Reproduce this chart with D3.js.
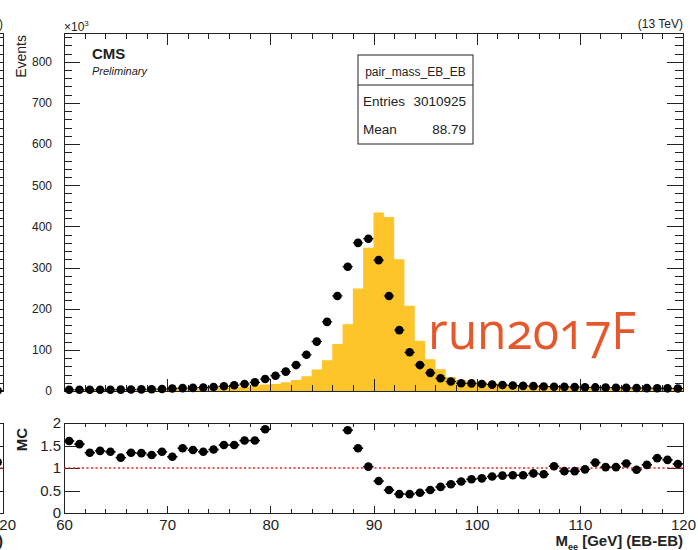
<!DOCTYPE html>
<meta charset="utf-8">
<style>

body {
  margin: 0;
  background: #fff;
}

svg {
  font-family: "Liberation Sans", Arial, sans-serif;
}

.frame path,
.frame line {
  stroke: #222;
  stroke-width: 1;
  shape-rendering: crispEdges;
}

.frame text {
  fill: #222;
}

.run {
  font-family: "Open Sans", Lato, sans-serif;
  font-feature-settings: "onum" 1;
  font-variant-numeric: oldstyle-nums;
}

</style>
<body>
<script src="https://cdn.jsdelivr.net/npm/d3@7"></script>
<script>

// lower edges of the 1 GeV mass bins
var binLow = [60, 61, 62, 63, 64, 65, 66, 67, 68, 69,
              70, 71, 72, 73, 74, 75, 76, 77, 78, 79,
              80, 81, 82, 83, 84, 85, 86, 87, 88, 89,
              90, 91, 92, 93, 94, 95, 96, 97, 98, 99,
              100, 101, 102, 103, 104, 105, 106, 107, 108, 109,
              110, 111, 112, 113, 114, 115, 116, 117, 118, 119];

// data, events x10^3
var dataCounts = [3.0, 3.0, 3.0, 3.1, 3.2, 3.4, 3.7, 4.0, 4.3, 4.7,
                  6.2, 7.0, 7.6, 8.5, 9.8, 11.5, 14, 17, 21, 29,
                  37, 47, 63, 88, 120, 168, 231, 302, 360, 370,
                  318, 231, 148, 94, 63, 44, 31, 23, 19, 18.5,
                  17, 15.5, 14.5, 13.5, 12.5, 11.8, 11, 10.5, 10, 9.5,
                  9, 8.7, 8.3, 8, 7.7, 7.3, 7, 6.8, 6.5, 6.2];

// MC, events x10^3
var mcCounts = [1.9, 2.0, 2.2, 2.2, 2.4, 2.8, 2.8, 3.0, 3.3, 3.5,
                5.0, 4.9, 5.4, 6.3, 7.0, 7.6, 9.3, 10.6, 13, 15.6,
                17, 21, 27, 36, 52, 75, 114, 162, 249, 348,
                434, 423, 320, 207, 122, 77, 53, 34, 27, 23,
                22, 19, 17.5, 16, 15, 13.4, 12.8, 10.1, 10.8, 10.2,
                9.3, 7.8, 8.1, 7.8, 7.0, 7.6, 6.5, 5.6, 5.5, 5.7];

// data / MC (null = off scale)
var ratioVals = [1.60, 1.53, 1.34, 1.38, 1.36, 1.23, 1.34, 1.33, 1.29, 1.36,
                 1.25, 1.44, 1.40, 1.36, 1.41, 1.51, 1.51, 1.61, 1.61, 1.86,
                 null, null, null, null, null, null, null, 1.84, 1.44, 1.03,
                 0.71, 0.51, 0.42, 0.42, 0.45, 0.51, 0.58, 0.64, 0.70, 0.75,
                 0.77, 0.81, 0.83, 0.84, 0.84, 0.88, 0.86, 1.04, 0.93, 0.93,
                 0.97, 1.12, 1.02, 1.02, 1.10, 0.96, 1.07, 1.22, 1.18, 1.09];

var ratioErr = 0.04;

var yTickLabels = [0, 100, 200, 300, 400, 500, 600, 700, 800];
var ratioTickLabels = [0, 0.5, 1, 1.5, 2];
var xTickLabels = [60, 70, 80, 90, 100, 110, 120];

var statsName = "pair_mass_EB_EB";
var statsRows = [["Entries", "3010925"], ["Mean", "88.79"]];

// last bin of the neighbouring (cropped) plot on the left
var neighbourLast = {data: 1.0, ratio: 1.13};

var W = 698, H = 550;
var left = 64, right = 683;
var topY0 = 33, topY1 = 391;
var ratY0 = 423, ratY1 = 513;

var x = d3.scaleLinear().domain([60, 120]).range([left, right]);
var y = d3.scaleLinear().domain([0, 870]).range([topY1, topY0]);
var yr = d3.scaleLinear().domain([0, 2]).range([ratY1, ratY0]);

var svg = d3.select("body").append("svg")
    .attr("width", W)
    .attr("height", H);

svg.append("rect").attr("width", W).attr("height", H).attr("fill", "#fff");

// frame with inward ticks on all sides, for both pads
function drawFrame(g, showLabels) {
  var f = g.append("g").attr("class", "frame");
  var minorX = d3.range(60, 121, 2);

  // upper pad
  f.append("g").attr("transform", "translate(" + left + ",0)")
    .call(d3.axisLeft(y).tickValues(yTickLabels).tickSize(-16).tickSizeOuter(0).tickPadding(12)
      .tickFormat(showLabels ? d3.format("d") : ""))
    .style("font-size", "12px");
  f.append("g").attr("transform", "translate(" + left + ",0)")
    .call(d3.axisLeft(y).tickValues(d3.range(0, 870, 20)).tickSize(-8).tickSizeOuter(0).tickFormat(""));
  f.append("g").attr("transform", "translate(" + right + ",0)")
    .call(d3.axisRight(y).tickValues(yTickLabels).tickSize(-16).tickSizeOuter(0).tickFormat(""));
  f.append("g").attr("transform", "translate(" + right + ",0)")
    .call(d3.axisRight(y).tickValues(d3.range(0, 870, 20)).tickSize(-8).tickSizeOuter(0).tickFormat(""));
  f.append("g").attr("transform", "translate(0," + topY0 + ")")
    .call(d3.axisTop(x).tickValues(xTickLabels).tickSize(-12).tickSizeOuter(0).tickFormat(""));
  f.append("g").attr("transform", "translate(0," + topY0 + ")")
    .call(d3.axisTop(x).tickValues(minorX).tickSize(-6).tickSizeOuter(0).tickFormat(""));
  f.append("g").attr("transform", "translate(0," + topY1 + ")")
    .call(d3.axisBottom(x).tickValues(xTickLabels).tickSize(-12).tickSizeOuter(0).tickFormat(""));
  f.append("g").attr("transform", "translate(0," + topY1 + ")")
    .call(d3.axisBottom(x).tickValues(minorX).tickSize(-6).tickSizeOuter(0).tickFormat(""));

  // ratio pad
  f.append("g").attr("transform", "translate(" + left + ",0)")
    .call(d3.axisLeft(yr).tickValues(ratioTickLabels).tickSize(-16).tickSizeOuter(0).tickPadding(3)
      .tickFormat(showLabels ? function(d) { return d; } : ""))
    .style("font-size", "15px");
  f.append("g").attr("transform", "translate(" + right + ",0)")
    .call(d3.axisRight(yr).tickValues(ratioTickLabels).tickSize(-16).tickSizeOuter(0).tickFormat(""));
  f.append("g").attr("transform", "translate(0," + ratY0 + ")")
    .call(d3.axisTop(x).tickValues(xTickLabels).tickSize(-7).tickSizeOuter(0).tickFormat(""));
  f.append("g").attr("transform", "translate(0," + ratY0 + ")")
    .call(d3.axisTop(x).tickValues(minorX).tickSize(-4).tickSizeOuter(0).tickFormat(""));
  f.append("g").attr("transform", "translate(0," + ratY1 + ")")
    .call(d3.axisBottom(x).tickValues(xTickLabels).tickSize(-7).tickSizeOuter(0).tickPadding(6))
    .style("font-size", "15px");
  f.append("g").attr("transform", "translate(0," + ratY1 + ")")
    .call(d3.axisBottom(x).tickValues(minorX).tickSize(-4).tickSizeOuter(0).tickFormat(""));

  f.selectAll(".domain").attr("fill", "none");
  f.selectAll("text").attr("fill", "#222").style("font-family", "Liberation Sans, Arial, sans-serif");

  // red reference line at 1
  g.append("line")
      .attr("x1", left).attr("x2", right)
      .attr("y1", yr(1)).attr("y2", yr(1))
      .attr("stroke", "#ff1a1a")
      .attr("stroke-width", 1.6)
      .attr("stroke-dasharray", "2,2.5");

  g.append("text")
      .attr("x", right).attr("y", 28)
      .attr("text-anchor", "end")
      .style("font-size", "12px")
      .attr("fill", "#222")
      .text("(13 TeV)");

  var xt = g.append("text")
      .attr("x", right).attr("y", 546)
      .attr("text-anchor", "end")
      .style("font-size", "15px")
      .style("font-weight", "bold")
      .attr("fill", "#222");
  xt.append("tspan").text("M");
  xt.append("tspan").attr("dy", 4).style("font-size", "9px").text("ee");
  xt.append("tspan").attr("dy", -4).text(" [GeV] (EB-EB)");
}

// neighbour plot, only its right edge shows
var nb = svg.append("g").attr("transform", "translate(-680,0)");
drawFrame(nb, false);
nb.append("line")
    .attr("x1", x(119)).attr("x2", x(120))
    .attr("y1", y(neighbourLast.data)).attr("y2", y(neighbourLast.data))
    .attr("stroke", "#000");
nb.append("circle").attr("cx", x(119.5)).attr("cy", y(neighbourLast.data)).attr("r", 4);
nb.append("circle").attr("cx", x(119.5)).attr("cy", yr(neighbourLast.ratio)).attr("r", 4);

var main = svg.append("g");

// MC histogram
var mcSteps = binLow.map(function(d, i) { return [d, mcCounts[i]]; });
mcSteps.push([120, mcCounts[mcCounts.length - 1]]);

main.append("path")
    .datum(mcSteps)
    .attr("fill", "#fdc52a")
    .attr("d", d3.area()
        .curve(d3.curveStepAfter)
        .x(function(d) { return x(d[0]); })
        .y0(y(0))
        .y1(function(d) { return y(d[1]); }));

drawFrame(main, true);

// data points with bin-width bars
var pts = binLow.map(function(d, i) {
  return {lo: d, c: d + 0.5, v: dataCounts[i], r: ratioVals[i]};
});

main.append("g").selectAll("line")
    .data(pts)
  .enter().append("line")
    .attr("x1", function(d) { return x(d.lo); })
    .attr("x2", function(d) { return x(d.lo + 1); })
    .attr("y1", function(d) { return y(d.v); })
    .attr("y2", function(d) { return y(d.v); })
    .attr("stroke", "#000");

main.append("g").selectAll("circle")
    .data(pts)
  .enter().append("circle")
    .attr("cx", function(d) { return x(d.c); })
    .attr("cy", function(d) { return y(d.v); })
    .attr("r", 4.3)
    .attr("fill", "#000");

// ratio points
var rpts = pts.filter(function(d) { return d.r !== null; });
var rg = main.append("g");

rg.selectAll(".hbar")
    .data(rpts)
  .enter().append("line")
    .attr("class", "hbar")
    .attr("x1", function(d) { return x(d.lo); })
    .attr("x2", function(d) { return x(d.lo + 1); })
    .attr("y1", function(d) { return yr(d.r); })
    .attr("y2", function(d) { return yr(d.r); })
    .attr("stroke", "#000")
    .attr("stroke-width", 1.5);

rg.selectAll(".vbar")
    .data(rpts)
  .enter().append("line")
    .attr("class", "vbar")
    .attr("x1", function(d) { return x(d.c); })
    .attr("x2", function(d) { return x(d.c); })
    .attr("y1", function(d) { return yr(d.r - ratioErr); })
    .attr("y2", function(d) { return yr(d.r + ratioErr); })
    .attr("stroke", "#000")
    .attr("stroke-width", 1.5);

rg.selectAll("circle")
    .data(rpts)
  .enter().append("circle")
    .attr("cx", function(d) { return x(d.c); })
    .attr("cy", function(d) { return yr(d.r); })
    .attr("r", 4.3)
    .attr("fill", "#000");

// titles
main.append("text")
    .attr("transform", "translate(26,35) rotate(-90)")
    .attr("text-anchor", "end")
    .style("font-size", "14px")
    .attr("fill", "#222")
    .text("Events");

main.append("text")
    .attr("transform", "translate(27,428) rotate(-90)")
    .attr("text-anchor", "end")
    .style("font-size", "15px")
    .style("font-weight", "bold")
    .attr("fill", "#222")
    .text("MC");

var mult = main.append("text")
    .attr("x", left).attr("y", 31)
    .style("font-size", "12px")
    .attr("fill", "#222");
mult.append("tspan").text("\u00d710");
mult.append("tspan").attr("dy", -5).style("font-size", "8px").text("3");

main.append("text")
    .attr("x", 92).attr("y", 59)
    .style("font-size", "15px")
    .style("font-weight", "bold")
    .attr("fill", "#222")
    .text("CMS");

main.append("text")
    .attr("x", 92).attr("y", 75)
    .style("font-size", "11px")
    .style("font-style", "italic")
    .attr("fill", "#222")
    .text("Preliminary");

// stats box
var box = main.append("g").attr("transform", "translate(358,55)");
box.append("rect")
    .attr("width", 115).attr("height", 89)
    .attr("fill", "#fff").attr("stroke", "#222");
box.append("line")
    .attr("x1", 0).attr("x2", 115).attr("y1", 30).attr("y2", 30)
    .attr("stroke", "#222");
box.append("text")
    .attr("x", 57.5).attr("y", 21)
    .attr("text-anchor", "middle")
    .style("font-size", "12px")
    .attr("fill", "#222")
    .text(statsName);

statsRows.forEach(function(r, i) {
  box.append("text")
      .attr("x", 5).attr("y", 51 + i * 28)
      .style("font-size", "13.5px")
      .attr("fill", "#222")
      .text(r[0]);
  box.append("text")
      .attr("x", 108).attr("y", 51 + i * 28)
      .attr("text-anchor", "end")
      .style("font-size", "13.5px")
      .attr("fill", "#222")
      .text(r[1]);
});

// run label
main.append("text")
    .attr("class", "run")
    .attr("x", 428).attr("y", 349)
    .attr("textLength", 208)
    .attr("lengthAdjust", "spacingAndGlyphs")
    .style("font-size", "52px")
    .attr("fill", "#e6582c")
    .text("run2017F");

</script>
</body>
